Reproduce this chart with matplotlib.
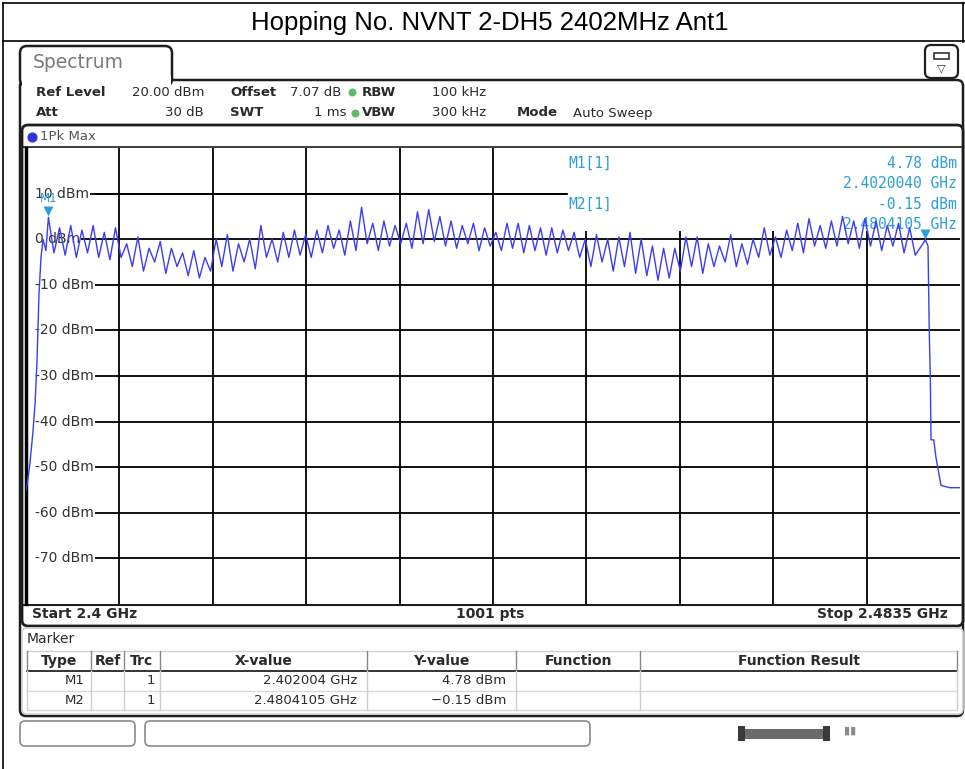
import numpy as np
import matplotlib
matplotlib.use("Agg")
import matplotlib.pyplot as plt
from matplotlib.patches import FancyBboxPatch, Rectangle

W, H = 965, 769

title = "Hopping No. NVNT 2-DH5 2402MHz Ant1"

# analyzer settings
start_ghz, stop_ghz = 2.4, 2.4835
ref_level, bottom_level = 20, -80
level_ticks = [10, 0, -10, -20, -30, -40, -50, -60, -70]

# hopping channels 2402..2480 MHz, peak and in-between dip levels (dBm)
channel_start = 2.402
channel_step = 0.001
channel_peaks = [4.78, 2.5, 3.0, 2.0, 3.0, 1.5, 2.5, -1.0, 0.5, -2.0,
                 -0.5, -2.0, -3.0, -2.5, -4.0, 0.0, 1.0, -1.0, 0.0, 3.0,
                 0.0, 1.5, 2.0, 1.0, 2.0, 3.0, 2.0, 4.0, 7.0, 3.5,
                 4.0, 3.0, 3.5, 6.0, 6.5, 5.0, 4.0, 3.0, 3.5, 2.5,
                 1.5, 3.5, 3.5, 3.0, 2.5, 2.5, 2.0, 1.5, 0.0, 1.0,
                 0.0, 0.5, 1.5, 0.0, -1.5, -2.0, -2.0, 0.5, 0.5, -1.0,
                 -1.5, 1.0, -1.0, 0.0, 2.5, 0.5, 2.0, 3.5, 4.5, 3.0,
                 4.0, 5.0, 4.0, 4.5, 4.0, 3.0, 3.5, 2.5, -0.15]
channel_valleys = [-3.0, -3.5, -4.0, -3.0, -4.0, -4.5, -4.0,
                   -6.0, -7.0, -5.0, -7.5, -6.0, -8.0, -8.5, -7.0,
                   -6.0, -7.0, -5.0, -6.5, -4.0, -5.0, -4.0,
                   -3.5, -4.0, -3.0, -2.0, -3.5, -2.5, -1.0, -2.5, -1.5,
                   -1.0, -2.0, -1.0, -0.5, -1.5, -2.0, -1.0, -2.5, -1.5, -2.5,
                   -2.0, -3.0, -2.5, -3.5, -3.0, -2.5, -4.0,
                   -6.0, -5.0, -7.0, -6.0, -7.5, -8.0, -9.0, -8.5, -7.0,
                   -6.0, -7.5, -6.0, -5.0, -6.0, -5.5, -4.0,
                   -3.5, -4.0, -2.5, -3.0, -1.5, -2.0, -1.5,
                   -1.0, -2.0, -1.5, -2.5, -1.5, -3.0, -3.5]
left_edge_freq = [2.40000, 2.40009, 2.40036, 2.40063, 2.40081, 2.40098,
                  2.40116, 2.40134, 2.40152, 2.40178]
left_edge_level = [-55.0, -54.0, -49.0, -42.0, -36.0, -27.0, -12.0, -4.0, 0.0, -2.5]
right_edge_freq = [2.48064, 2.48075, 2.48085, 2.48091, 2.48115, 2.48136,
                   2.48180, 2.48260, 2.48350]
right_edge_level = [-1.5, -20.0, -31.0, -44.0, -44.0, -48.0, -54.0, -54.5, -54.5]

# markers
marker_names = ["M1", "M2"]
marker_freq = [2.402004, 2.4804105]
marker_level = [4.78, -0.15]
marker_freq_text = ["2.4020040 GHz", "2.4804105 GHz"]
table_freq_text = ["2.402004 GHz", "2.4804105 GHz"]

trace_blue = "#3c3cf2"
marker_blue = "#2b9fd8"
text_dark = "#2a2a2a"

# build the trace: left skirt, channel peaks with dips, right skirt
freq = list(left_edge_freq)
level = list(left_edge_level)
for k, pk in enumerate(channel_peaks):
    f_pk = channel_start + k * channel_step
    if k == 0:
        f_pk = marker_freq[0]
    if k == len(channel_peaks) - 1:
        f_pk = marker_freq[1]
    freq.append(f_pk)
    level.append(pk)
    if k < len(channel_valleys):
        freq.append(channel_start + (k + 0.5) * channel_step)
        level.append(channel_valleys[k])
freq += right_edge_freq
level += right_edge_level


def fig_rect(x0, y0, x1, y1):
    return [x0 / W, 1 - y1 / H, (x1 - x0) / W, (y1 - y0) / H]


fig = plt.figure(figsize=(W / 100, H / 100), dpi=100)

# ---- screen chrome drawn in pixel coordinates ----
bg = fig.add_axes([0, 0, 1, 1])
bg.set_xlim(0, W)
bg.set_ylim(H, 0)
bg.axis("off")

# title table
bg.plot([3, 3], [3, H], color="black", lw=1.2)
bg.plot([963, 963], [3, 42], color="black", lw=1.2)
bg.plot([3, W], [3, 3], color="black", lw=1.2)
bg.plot([3, W], [41, 41], color="black", lw=1.2)
bg.text(490, 23, title, ha="center", va="center", fontsize=18.5,
        family="Liberation Sans", color="black")

# main panel and Spectrum tab
bg.add_patch(FancyBboxPatch((20, 80), 943, 636, boxstyle="round,pad=0,rounding_size=6",
                            fc="white", ec="#1e1e1e", lw=1.8))
bg.add_patch(FancyBboxPatch((20, 46), 152, 40, boxstyle="round,pad=0,rounding_size=7",
                            fc="white", ec="#1e1e1e", lw=1.8))
bg.add_patch(Rectangle((21.5, 76), 149, 12, fc="white", ec="none"))
bg.text(33, 62, "Spectrum", ha="left", va="center", fontsize=13.5, color="#7a7a7a")

# display-config icon in the corner
bg.add_patch(FancyBboxPatch((925, 45), 33, 33, boxstyle="round,pad=0,rounding_size=6",
                            fc="white", ec="#1e1e1e", lw=1.6))
bg.add_patch(Rectangle((934, 53), 15, 6, fc="white", ec="#333", lw=1.2))
bg.text(941.5, 68, "\u25bd", ha="center", va="center", fontsize=8, color="#333")

# settings header
hdr = dict(fontsize=9.5, color=text_dark, va="center")
row1, row2 = 92, 113
bg.text(36, row1, "Ref Level", fontweight="bold", ha="left", **hdr)
bg.text(204, row1, "20.00 dBm", ha="right", **hdr)
bg.text(230, row1, "Offset", fontweight="bold", ha="left", **hdr)
bg.text(290, row1, "7.07 dB", ha="left", **hdr)
bg.text(362, row1, "RBW", fontweight="bold", ha="left", **hdr)
bg.text(432, row1, "100 kHz", ha="left", **hdr)
bg.text(36, row2, "Att", fontweight="bold", ha="left", **hdr)
bg.text(204, row2, "30 dB", ha="right", **hdr)
bg.text(230, row2, "SWT", fontweight="bold", ha="left", **hdr)
bg.text(346, row2, "1 ms", ha="right", **hdr)
bg.text(362, row2, "VBW", fontweight="bold", ha="left", **hdr)
bg.text(432, row2, "300 kHz", ha="left", **hdr)
bg.text(517, row2, "Mode", fontweight="bold", ha="left", **hdr)
bg.text(573, row2, "Auto Sweep", ha="left", **hdr)
bg.scatter([352, 355], [row1, row2], s=22, color="#5dbb63", zorder=3)

# diagram frame
bg.add_patch(FancyBboxPatch((22, 125), 941, 501, boxstyle="round,pad=0,rounding_size=6",
                            fc="white", ec="#1e1e1e", lw=2.0))
bg.plot([22, 963], [147, 147], color="#1e1e1e", lw=1.2)
bg.scatter([32], [137], s=40, color="#3434d8", zorder=3)
bg.text(40, 137, "1Pk Max", ha="left", va="center", fontsize=9.5, color="#555")
bg.plot([22, 963], [605, 605], color="#1e1e1e", lw=1.5)
bot = dict(fontsize=10, color=text_dark, va="center", fontweight="bold")
bg.text(32, 614, "Start 2.4 GHz", ha="left", **bot)
bg.text(490, 614, "1001 pts", ha="center", **bot)
bg.text(948, 614, "Stop 2.4835 GHz", ha="right", **bot)

# marker table
bg.add_patch(FancyBboxPatch((22, 628), 941, 86, boxstyle="round,pad=0,rounding_size=5",
                            fc="white", ec="#cfcfcf", lw=1.2))
bg.text(27, 639, "Marker", ha="left", va="center", fontsize=10, color=text_dark)
col_edges = [27, 91, 124, 160, 367, 516, 640, 957]
headers = ["Type", "Ref", "Trc", "X-value", "Y-value", "Function", "Function Result"]
for i, h in enumerate(headers):
    bg.text((col_edges[i] + col_edges[i + 1]) / 2, 661, h, ha="center", va="center",
            fontsize=10, fontweight="bold", color=text_dark)
bg.plot([27, 957], [651, 651], color="#d0d0d0", lw=1)
bg.plot([27, 957], [671, 671], color="#333", lw=1.4)
bg.plot([27, 957], [691, 691], color="#d8d8d8", lw=1)
bg.plot([27, 957], [710, 710], color="#d8d8d8", lw=1)
for x in col_edges:
    bg.plot([x, x], [651, 671], color="#888", lw=1)
    bg.plot([x, x], [671, 710], color="#cccccc", lw=1)
for r, name in enumerate(marker_names):
    y = 681 + 20 * r
    cell = dict(fontsize=9.5, color=text_dark, va="center", ha="right")
    bg.text(85, y, name, **cell)
    bg.text(155, y, "1", **cell)
    bg.text(357, y, table_freq_text[r], **cell)
    bg.text(506, y, f"{marker_level[r]:.2f} dBm".replace("-", "\u2212"), **cell)

# soft-key boxes and status bar at the bottom
bg.add_patch(FancyBboxPatch((20, 721), 115, 25, boxstyle="round,pad=0,rounding_size=5",
                            fc="white", ec="#8a8a8a", lw=1.2))
bg.add_patch(FancyBboxPatch((145, 721), 445, 25, boxstyle="round,pad=0,rounding_size=5",
                            fc="white", ec="#8a8a8a", lw=1.2))
bg.add_patch(Rectangle((742, 729), 84, 10, fc="#6a6a6a", ec="none"))
bg.add_patch(Rectangle((738, 726), 7, 15, fc="#3a3a3a", ec="none"))
bg.add_patch(Rectangle((823, 726), 7, 15, fc="#3a3a3a", ec="none"))
bg.text(850, 731, "\u25ae\u25ae", ha="center", va="center", fontsize=8, color="#8a8a8a")

# ---- spectrum diagram ----
ax = fig.add_axes(fig_rect(26, 148, 960, 604))
ax.set_xlim(start_ghz, stop_ghz)
ax.set_ylim(bottom_level, ref_level)
ax.set_xticks([])
ax.set_yticks([])
for side in ax.spines.values():
    side.set_visible(False)
ax.spines["left"].set_visible(True)
ax.spines["left"].set_linewidth(2.5)

span = stop_ghz - start_ghz
for i in range(1, 10):
    ax.axvline(start_ghz + span * i / 10, color="black", lw=1.3, zorder=1)
for lv in level_ticks:
    ax.axhline(lv, color="black", lw=1.3, zorder=1)
    ax.text(0.01, lv, f"{lv} dBm", transform=ax.get_yaxis_transform(),
            ha="left", va="center", fontsize=10, color="#333",
            bbox=dict(fc="white", ec="none", pad=0.5), zorder=2)
# keep the level lines clear of the left edge, they start at the labels
ax.add_patch(Rectangle((0, 0), 0.011, 1, transform=ax.transAxes,
                       fc="white", ec="none", zorder=1.5))

# marker readout area covers the grid top right
mx0 = start_ghz + span * (567 - 26) / 934
ax.add_patch(Rectangle((mx0, 1.8), stop_ghz - mx0, ref_level - 1.8,
                       fc="white", ec="none", zorder=2))
ax.plot([start_ghz + span * 0.075, mx0], [10, 10], color="black", lw=1.3, zorder=2)

mono = dict(family="DejaVu Sans Mono", fontsize=10.5, color=marker_blue, zorder=2.5)
ax.text(mx0 + 0.0001, 16.6, "M1[1]", ha="left", va="center", **mono)
ax.text(mx0 + 0.0001, 7.6, "M2[1]", ha="left", va="center", **mono)
rx = stop_ghz - 0.0003
ax.text(rx, 16.6, f"{marker_level[0]:.2f} dBm", ha="right", va="center", **mono)
ax.text(rx, 12.2, marker_freq_text[0], ha="right", va="center", **mono)
ax.text(rx, 7.6, f"{marker_level[1]:.2f} dBm", ha="right", va="center", **mono)
ax.text(rx, 3.2, marker_freq_text[1], ha="right", va="center", **mono)

ax.plot(freq, level, color=trace_blue, lw=1.0, zorder=3)

for name, f, lv in zip(marker_names, marker_freq, marker_level):
    ax.plot(f, lv + 1.3, marker="v", ms=7, color=marker_blue, zorder=4, mec="none")
ax.text(marker_freq[0], 9.0, "M1", ha="center", va="center", fontsize=8.5,
        color=marker_blue, zorder=4)

fig.savefig("out.png", dpi=100)
